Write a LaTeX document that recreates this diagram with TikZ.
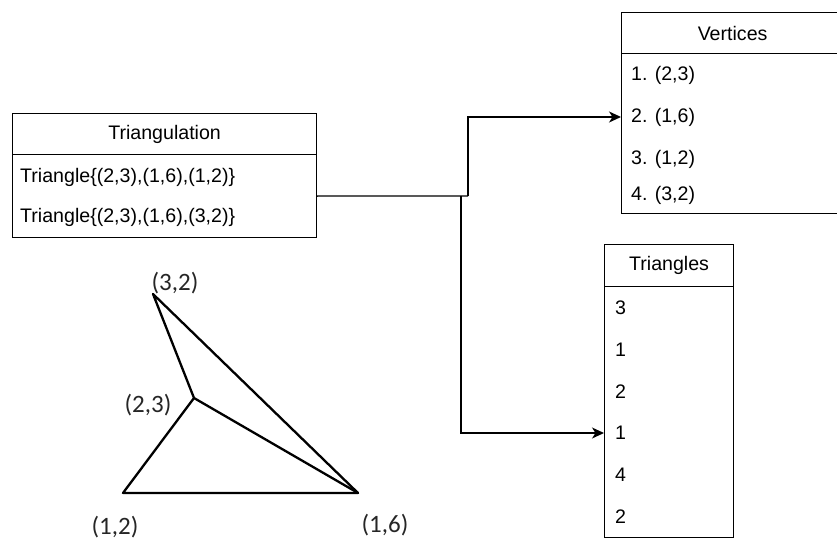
\documentclass[tikz,border=0pt]{standalone}
\usepackage{fontspec}
\setmainfont{Liberation Sans}
\newfontfamily\labelfont{Carlito}
\usetikzlibrary{arrows.meta}

\tikzset{
  box/.style={draw=black, line width=1.2pt, fill=white, inner sep=0pt, anchor=north west},
  cell/.style={inner xsep=10pt, inner ysep=0pt, anchor=west, font=\fontsize{19.6}{21}\selectfont},
  title/.style={inner sep=0pt, font=\fontsize{19.6}{21}\selectfont},
  link/.style={draw=black, line width=1.3pt, -{Stealth[length=12pt,width=11pt,inset=3.5pt]}},
  plain/.style={draw=black, line width=1.3pt},
  edge/.style={draw=black, line width=2.3pt, line cap=round, line join=round},
  vlabel/.style={inner sep=0pt, text=black!85, font=\labelfont\fontsize{25}{27}\selectfont}
}

\begin{document}
\begin{tikzpicture}[x=1pt, y=-1pt]
  \useasboundingbox (0,0) rectangle (837,540);
  \clip (0,0) rectangle (837,540);

  % Triangulation table
  \node[box, minimum width=304pt, minimum height=41pt] (trh) at (12,113) {};
  \node[title] (trt) at (trh.center) {Triangulation};
  \node[box, minimum width=304pt, minimum height=83pt] (trb) at (12,154) {};
  \node[cell, inner xsep=8pt] (tr1) at (12,177) {Triangle\{(2,3),(1,6),(1,2)\}};
  \node[cell, inner xsep=8pt] (tr2) at (12,217) {Triangle\{(2,3),(1,6),(3,2)\}};

  % Vertices table (runs past the right edge)
  \node[box, minimum width=222pt, minimum height=41pt] (vh) at (621,12) {};
  \node[title] (vt) at (vh.center) {Vertices};
  \node[box, minimum width=222pt, minimum height=160pt] (vb) at (621,53) {};
  \node[cell] (v1) at (621,75) {1. (2,3)};
  \node[cell] (v2) at (621,117) {2. (1,6)};
  \node[cell] (v3) at (621,159) {3. (1,2)};
  \node[cell] (v4) at (621,195) {4. (3,2)};

  % Triangles table
  \node[box, minimum width=129pt, minimum height=42pt] (th) at (604,244) {};
  \node[title] (tt) at (th.center) {Triangles};
  \node[box, minimum width=129pt, minimum height=251pt] (tb) at (604,286) {};
  \node[cell, inner xsep=11pt] (t1) at (604,308) {3};
  \node[cell, inner xsep=11pt] (t2) at (604,350) {1};
  \node[cell, inner xsep=11pt] (t3) at (604,392) {2};
  \node[cell, inner xsep=11pt] (t4) at (604,433) {1};
  \node[cell, inner xsep=11pt] (t5) at (604,475) {4};
  \node[cell, inner xsep=11pt] (t6) at (604,517) {2};

  % Connectors
  \coordinate (ja) at (468,196);
  \coordinate (jb) at (461,196);
  \draw[plain] (trb.east) -- (ja);
  \draw[link] (ja) |- (v2.west);
  \draw[link] (jb) |- (t4.west);

  % Triangulation sketch
  \coordinate (p32) at (153,294);
  \coordinate (p23) at (194,398);
  \coordinate (p12) at (123,493);
  \coordinate (p16) at (358,493);
  \draw[edge] (p32) -- (p16) -- (p12) -- (p23) -- (p32);
  \draw[edge] (p23) -- (p16);

  \node[vlabel] (l32) at (175,283) {(3,2)};
  \node[vlabel] (l23) at (148,405) {(2,3)};
  \node[vlabel] (l12) at (115,527) {(1,2)};
  \node[vlabel] (l16) at (385,525) {(1,6)};
\end{tikzpicture}
\end{document}
